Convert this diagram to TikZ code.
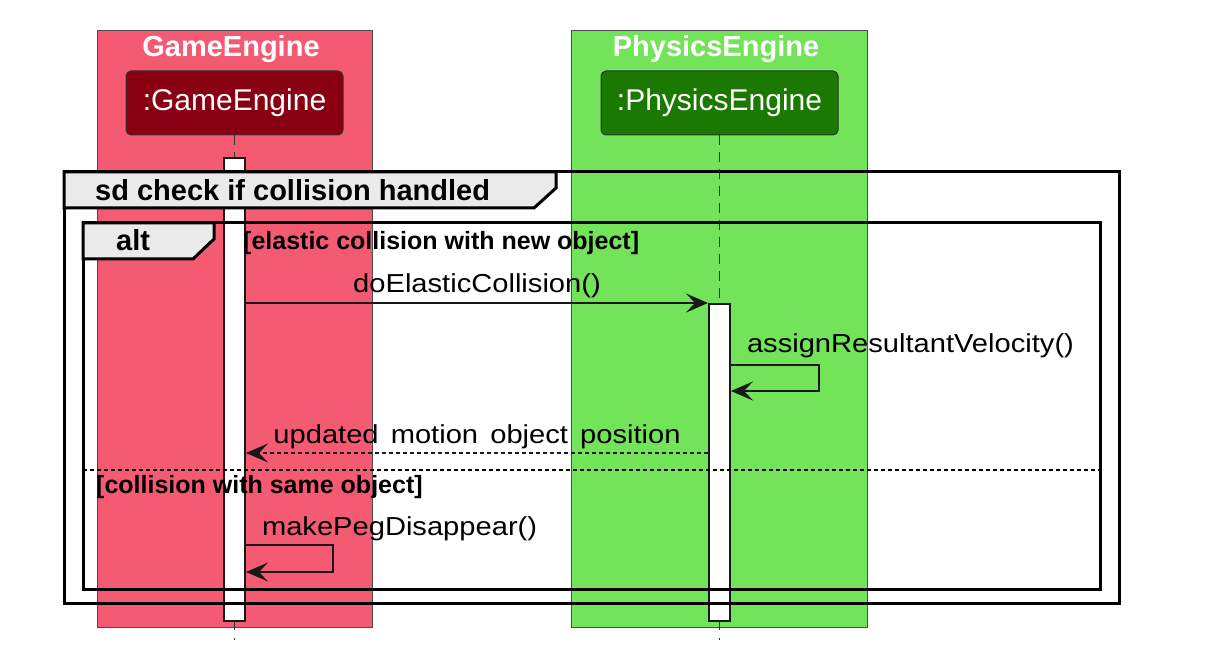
\documentclass[tikz,border=0pt]{standalone}
\usepackage{fontspec}
\setmainfont{Liberation Sans}
\newfontfamily\msgface{Liberation Sans}[FakeStretch=1.12, WordSpace=1.5]
\usetikzlibrary{arrows.meta}

\definecolor{gamebg}{RGB}{245,90,115}
\definecolor{gamedark}{RGB}{136,0,18}
\definecolor{physbg}{RGB}{115,227,90}
\definecolor{physdark}{RGB}{27,120,0}
\definecolor{headgray}{RGB}{234,234,234}
\definecolor{ink}{RGB}{24,24,24}

\newcommand{\msgfont}{\msgface\fontsize{26}{31}\selectfont}
\newcommand{\boldfont}{\bfseries\fontsize{29}{34}\selectfont}

\tikzset{
	grp/.style={draw=black!70, line width=1pt},
	grptitle/.style={text=white, font=\bfseries\fontsize{29}{34}\selectfont, anchor=base, inner sep=0pt},
	actor/.style={draw=black!80, line width=1pt, rounded corners=5pt, minimum height=64pt, text=white, font=\fontsize{30}{36}\selectfont, inner sep=0pt},
	lifeline/.style={draw=black!80, line width=1pt, dash pattern=on 10pt off 7pt},
	bar/.style={draw=ink, fill=white, line width=2pt, minimum width=21pt, inner sep=0pt, anchor=north},
	sdframe/.style={line width=3pt},
	framehead/.style={draw, fill=headgray, line width=3pt, line join=miter},
	headlabel/.style={font=\boldfont, anchor=base west, inner sep=0pt},
	msg/.style={color=ink, line width=2pt, -{Stealth[length=22pt, width=19pt, inset=9pt]}},
	ret/.style={msg, dash pattern=on 4pt off 3pt},
	divider/.style={line width=1.5pt, dash pattern=on 4pt off 3pt},
	msglabel/.style={font=\msgfont, text=black, anchor=base, inner sep=0pt},
	guard/.style={font=\bfseries\fontsize{25}{30}\selectfont, anchor=base west, inner sep=0pt},
}

\begin{document}
\begin{tikzpicture}[x=1pt, y=-1pt]

	\fill[white] (0,0) rectangle (1216,668);
	\useasboundingbox (0,0) rectangle (1216,668);

	% boxes
	\draw[grp, fill=gamebg] (97,31) rectangle (372,627);
	\draw[grp, fill=physbg] (571,31) rectangle (867,627);
	\node[grptitle] (gametitle) at (231,57) {GameEngine};
	\node[grptitle] (phystitle) at (716,57) {PhysicsEngine};

	\node[actor, fill=gamedark, minimum width=217pt] (ge) at (234.5,103) {:GameEngine};
	\node[actor, fill=physdark, minimum width=237pt] (pe) at (719.5,103) {:PhysicsEngine};

	% lifelines and bars
	\node[bar, minimum height=463pt] (gebar) at (234.5,157) {};
	\node[bar, minimum height=317pt] (pebar) at (719.5,303) {};
	\draw[lifeline] (ge.south) -- (gebar.north);
	\draw[lifeline] (pe.south) -- (pebar.north);
	\draw[lifeline, dash pattern=on 8pt off 8pt] (gebar.south) -- ++(0,18);
	\draw[lifeline, dash pattern=on 8pt off 8pt] (pebar.south) -- ++(0,18);

	% frames
	\draw[sdframe] (64,172) rectangle (1119,603);
	\draw[framehead] (64,172) -- (556,172) -- (556,188) -- (534,208) -- (64,208) -- cycle;
	\node[headlabel] (sdlabel) at (95,201) {sd check if collision handled};

	\draw[sdframe] (83,223) rectangle (1100,589);
	\draw[framehead] (83,223) -- (214,223) -- (214,239) -- (193,259) -- (83,259) -- cycle;
	\node[headlabel] (altlabel) at (116,251) {alt};
	\node[guard] (elastic) at (243,250) {[elastic collision with new object]};

	\draw[divider] (83,470) -- (1100,470);
	\node[guard] (same) at (96,493) {[collision with same object]};

	% messages
	\coordinate (m1) at (0,303);
	\coordinate (m2) at (0,365);
	\coordinate (m3) at (0,391);
	\coordinate (m4) at (0,453);
	\coordinate (m5) at (0,545);
	\coordinate (m6) at (0,572);

	\path[msg] (gebar.east |- m1) edge node[msglabel, midway, yshift=10pt] (elasticmsg) {doElasticCollision()} (pebar.north west);

	\draw[msg] (pebar.east |- m2) node[msglabel, anchor=base west, xshift=15pt, yshift=12pt] (velmsg) {assignResultantVelocity()} -- ++(88,0) -- ++(0,26) -- (pebar.east |- m3);

	\path[ret] (pebar.west |- m4) edge node[msglabel, midway, yshift=10pt] (posmsg) {updated motion object position} (gebar.east |- m4);

	\draw[msg] (gebar.east |- m5) node[msglabel, anchor=base west, xshift=15pt, yshift=10pt] (pegmsg) {makePegDisappear()} -- ++(87,0) -- ++(0,27) -- (gebar.east |- m6);

\end{tikzpicture}
\end{document}
